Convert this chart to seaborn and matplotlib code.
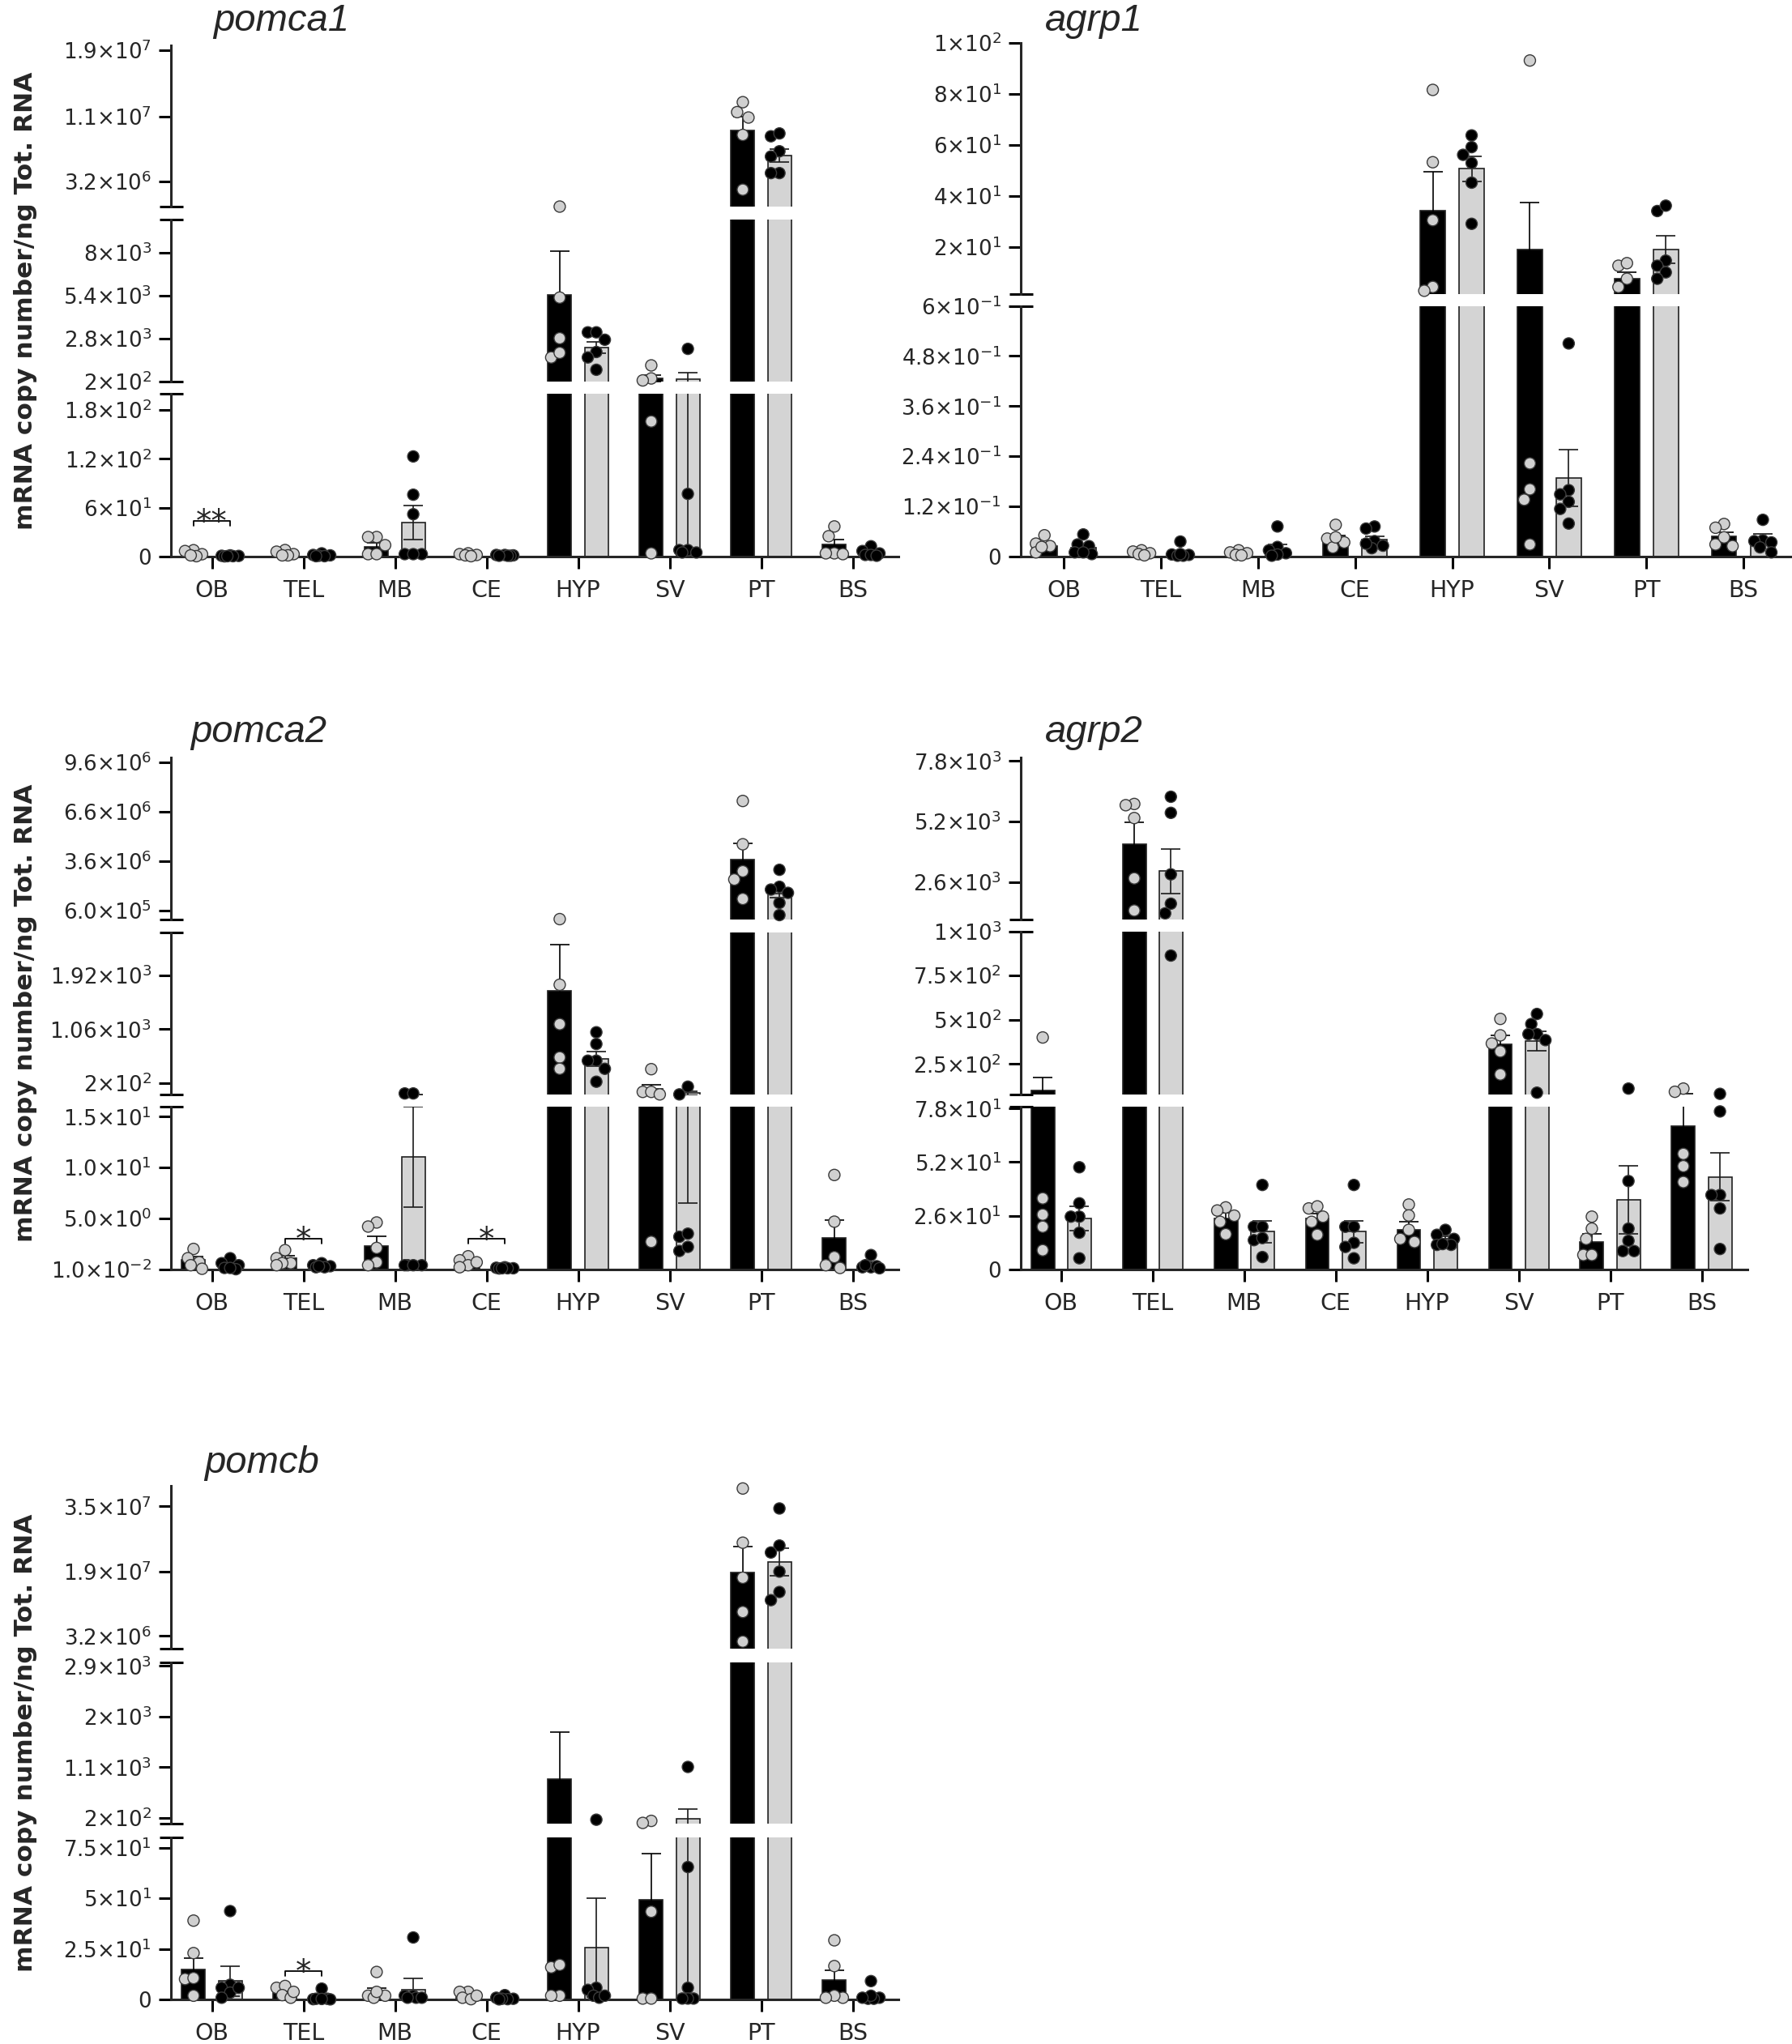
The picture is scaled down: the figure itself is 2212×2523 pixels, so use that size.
import numpy as np
import pandas as pd
import matplotlib
matplotlib.use("Agg")
import matplotlib.pyplot as plt
import seaborn as sns

# ---------------- data ----------------
REGIONS = ["OB", "TEL", "MB", "CE", "HYP", "SV", "PT", "BS"]
GROUPS = ["A", "B"]          # A: black bars / grey dots, B: grey bars / black dots
YLABEL = "mRNA copy number/ng Tot. RNA"

# pomca1
POMCA1_A_MEAN = [4, 4, 12, 2.5, 5420, 400, 9.3e6, 14.6]
POMCA1_A_SEM = [1.3, 1.2, 5, 0.7, 2670, 180, 1.7e6, 6.5]
POMCA1_A_PTS = [[7.8, 2.9, 0.5, 6.8, 1.5], [8, 6, 3, 1.5, 1.5], [24, 24, 14, 3, 3],
                [4, 3, 2, 1.5, 0.5], [1.6e5, 5280, 2820, 1660, 1940], [1180, 390, 270, 166, 4],
                [1.275e7, 1.155e7, 1.09e7, 8.8e6, 2.2e6], [37, 25, 4, 4, 3]]
POMCA1_B_MEAN = [0.8, 1.5, 42, 1.5, 2250, 345, 6.3e6, 5]
POMCA1_B_SEM = [0.2, 0.5, 21, 0.3, 350, 380, 0.75e6, 1.8]
POMCA1_B_PTS = [[1.5, 1, 0.8, 0.5, 0.3, 0.5], [4, 2, 1.5, 1, 0.5, 0.5], [123, 76, 52, 3, 3, 3],
                [2, 2, 1.5, 1, 1, 1], [3180, 3180, 2730, 1990, 1660, 915], [2180, 77, 8, 8, 5, 5],
                [8.64e6, 8.98e6, 6.83e6, 6.2e6, 4.2e6, 4.2e6], [12.7, 6.8, 3.9, 2, 2, 1]]
POMCA1_RANGES = [(1.6e5, 1.96e7), (200, 10000), (0, 200)]
POMCA1_TICKS = [[3.2e6, 1.1e7, 1.9e7], [200, 2800, 5400, 8000], [0, 60, 120, 180]]
POMCA1_TICKLABELS = [[r"$3.2{\times}10^{6}$", r"$1.1{\times}10^{7}$", r"$1.9{\times}10^{7}$"],
                     [r"$2{\times}10^{2}$", r"$2.8{\times}10^{3}$", r"$5.4{\times}10^{3}$", r"$8{\times}10^{3}$"],
                     ["0", r"$6{\times}10^{1}$", r"$1.2{\times}10^{2}$", r"$1.8{\times}10^{2}$"]]
POMCA1_SIG = [("OB", 44, "**")]

# agrp1
AGRP1_A_MEAN = [0.026, 0.008, 0.007, 0.041, 34.4, 18.9, 7.6, 0.048]
AGRP1_A_SEM = [0.007, 0.002, 0.002, 0.010, 15, 18.6, 2.5, 0.011]
AGRP1_A_PTS = [[0.051, 0.031, 0.025, 0.010, 0.023], [0.015, 0.012, 0.008, 0.006, 0.003],
               [0.015, 0.010, 0.008, 0.004, 0.003], [0.076, 0.043, 0.022, 0.034, 0.046],
               [81.5, 53.2, 30.5, 4.4, 2.9], [93.0, 0.223, 0.161, 0.136, 0.029],
               [12.7, 13.7, 7.6, 4.4, 1.0], [0.078, 0.069, 0.029, 0.025, 0.046]]
AGRP1_B_MEAN = [0.022, 0.009, 0.018, 0.040, 50.6, 0.188, 19.1, 0.043]
AGRP1_B_SEM = [0.007, 0.005, 0.011, 0.008, 4.9, 0.067, 5.4, 0.011]
AGRP1_B_PTS = [[0.053, 0.029, 0.025, 0.006, 0.010, 0.010], [0.036, 0.005, 0.004, 0.002, 0.002, 0.006],
               [0.072, 0.023, 0.015, 0.008, 0.005, 0.002], [0.072, 0.067, 0.037, 0.020, 0.026, 0.031],
               [63.7, 59.1, 56.1, 52.9, 45.2, 29.1], [0.51, 0.159, 0.149, 0.131, 0.114, 0.079],
               [34.1, 36.2, 14.7, 12.7, 10.1, 7.6], [0.088, 0.039, 0.034, 0.037, 0.010, 0.022]]
AGRP1_RANGES = [(1.6, 100), (0, 0.6)]
AGRP1_TICKS = [[20, 40, 60, 80, 100], [0, 0.12, 0.24, 0.36, 0.48, 0.6]]
AGRP1_TICKLABELS = [[r"$2{\times}10^{1}$", r"$4{\times}10^{1}$", r"$6{\times}10^{1}$", r"$8{\times}10^{1}$",
                     r"$1{\times}10^{2}$"],
                    ["0", r"$1.2{\times}10^{-1}$", r"$2.4{\times}10^{-1}$", r"$3.6{\times}10^{-1}$",
                     r"$4.8{\times}10^{-1}$", r"$6{\times}10^{-1}$"]]
AGRP1_SIG = []

# pomca2
POMCA2_A_MEAN = [0.93, 1.09, 2.32, 0.55, 1670, 102, 3.72e6, 3.12]
POMCA2_A_SEM = [0.3, 0.25, 0.96, 0.2, 750, 72, 0.96e6, 1.7]
POMCA2_A_PTS = [[2.0, 1.09, 0.69, 0.05, 0.4], [1.88, 1.09, 0.6, 0.6, 0.4], [4.6, 4.2, 2.1, 0.69, 0.4],
                [1.28, 0.89, 0.4, 0.2, 0.69], [8.5e4, 1773, 1142, 609, 427], [421, 57, 57, 17, 2.7],
                [7.26e6, 4.63e6, 2.99e6, 2.49e6, 1.31e6], [9.27, 4.68, 1.2, 0.13, 0.4]]
POMCA2_B_MEAN = [0.41, 0.4, 11.06, 0.12, 590, 37.5, 1.63e6, 0.4]
POMCA2_B_SEM = [0.15, 0.1, 4.95, 0.03, 117, 31, 0.25e6, 0.2]
POMCA2_B_PTS = [[1.09, 0.6, 0.4, 0.13, 0.01, 0.13], [0.6, 0.4, 0.3, 0.2, 0.2, 0.3], [32, 32, 0.4, 0.4, 0.4, 0.4],
                [0.2, 0.15, 0.1, 0.1, 0.08, 0.1], [1012, 824, 557, 557, 427, 220], [141, 17, 3.2, 3.5, 1.8, 2.2],
                [3.08e6, 2.05e6, 1.88e6, 1.68e6, 1.07e6, 0.33e6], [1.4, 0.2, 0.2, 0.4, 0.3, 0.1]]
POMCA2_RANGES = [(8e4, 9.9e6), (15, 2610), (0.01, 16)]
POMCA2_TICKS = [[6e5, 3.6e6, 6.6e6, 9.6e6], [200, 1060, 1920], [0.01, 5, 10, 15]]
POMCA2_TICKLABELS = [[r"$6.0{\times}10^{5}$", r"$3.6{\times}10^{6}$", r"$6.6{\times}10^{6}$", r"$9.6{\times}10^{6}$"],
                     [r"$2{\times}10^{2}$", r"$1.06{\times}10^{3}$", r"$1.92{\times}10^{3}$"],
                     [r"$1.0{\times}10^{-2}$", r"$5.0{\times}10^{0}$", r"$1.0{\times}10^{1}$", r"$1.5{\times}10^{1}$"]]
POMCA2_SIG = [("TEL", 3.0, "*"), ("CE", 3.0, "*")]

# agrp2
AGRP2_A_MEAN = [99.6, 4224, 24.6, 24.6, 19.1, 361.7, 13.4, 69.4]
AGRP2_A_SEM = [73, 933, 2.9, 2.5, 4.1, 50, 3.7, 10.5]
AGRP2_A_PTS = [[400, 34.4, 26.5, 20.6, 9.2], [5952, 5900, 5347, 2755, 1373], [30, 28.5, 26, 23, 17],
               [29.5, 30.5, 25.5, 23, 16.7], [31.4, 26.1, 19.1, 14.7, 13.2], [505, 412, 366, 321, 191],
               [25.5, 19.7, 14.7, 6.9, 6.9], [111, 93, 56, 50, 42.3]]
AGRP2_B_MEAN = [24.6, 3066, 18.3, 18.3, 14.7, 380, 33.8, 44.8]
AGRP2_B_SEM = [5.9, 950, 5.3, 5.3, 1.2, 57, 16.5, 11.7]
AGRP2_B_PTS = [[49.5, 32, 25.5, 25.5, 17.7, 5.3], [6263, 5571, 2928, 1667, 1252, 863],
               [40.9, 20.6, 20.6, 14.1, 15.1, 5.9], [40.9, 20.6, 20.6, 12.8, 10.8, 5.3],
               [19.1, 16.7, 14.7, 11.8, 11.8, 12.2], [533, 476, 419, 419, 385, 88],
               [111, 42.8, 19.7, 8.8, 8.8, 13.8], [81.4, 76.6, 36, 36, 29.5, 9.8]]
AGRP2_RANGES = [(1000, 7950), (78, 1000), (0, 79)]
AGRP2_TICKS = [[2600, 5200, 7800], [250, 500, 750, 1000], [0, 26, 52, 78]]
AGRP2_TICKLABELS = [[r"$2.6{\times}10^{3}$", r"$5.2{\times}10^{3}$", r"$7.8{\times}10^{3}$"],
                    [r"$2.5{\times}10^{2}$", r"$5{\times}10^{2}$", r"$7.5{\times}10^{2}$", r"$1{\times}10^{3}$"],
                    ["0", r"$2.6{\times}10^{1}$", r"$5.2{\times}10^{1}$", r"$7.8{\times}10^{1}$"]]
AGRP2_SIG = []

# pomcb
POMCB_A_MEAN = [15.0, 3.5, 2.9, 1.5, 885, 49.2, 1.88e7, 9.8]
POMCB_A_SEM = [5.5, 1.0, 3.0, 0.5, 833, 23, 6.3e6, 4.8]
POMCB_A_PTS = [[39, 23, 10.2, 10.7, 2], [5.9, 6.8, 2.3, 1, 3.9], [13.7, 2, 2, 1, 3.9], [3.9, 3.9, 1, 0.3, 2],
               [16, 17.2, 2, 2, 4400], [144, 108, 43.4, 0.6, 0.6],
               [3.94e7, 2.61e7, 1.75e7, 9.1e6, 1.84e6], [29.3, 16.6, 1, 2, 1]]
POMCB_B_MEAN = [9.2, 1.0, 4.9, 1.0, 25.8, 179, 2.14e7, 2.0]
POMCB_B_SEM = [7.4, 0.8, 5.5, 0.3, 24.4, 180, 3.4e6, 1.3]
POMCB_B_PTS = [[43.7, 7.4, 5.9, 3.5, 1, 5.9], [5.5, 0.5, 0.3, 0.2, 0.5, 0.4], [30.7, 2, 2, 1, 1, 1],
               [2.3, 1, 0.5, 0.3, 0.5, 0.2], [165, 5.9, 4.9, 2, 1, 2], [1104, 65.4, 5.9, 0.6, 0.6, 0.6],
               [3.45e7, 2.54e7, 2.37e7, 1.9e7, 1.4e7, 1.2e7], [9.2, 1, 0.5, 0.5, 2, 1]]
POMCB_RANGES = [(1e5, 4.0e7), (95, 2970), (0, 80)]
POMCB_TICKS = [[3.2e6, 1.9e7, 3.5e7], [200, 1100, 2000, 2900], [0, 25, 50, 75]]
POMCB_TICKLABELS = [[r"$3.2{\times}10^{6}$", r"$1.9{\times}10^{7}$", r"$3.5{\times}10^{7}$"],
                    [r"$2{\times}10^{2}$", r"$1.1{\times}10^{3}$", r"$2{\times}10^{3}$", r"$2.9{\times}10^{3}$"],
                    ["0", r"$2.5{\times}10^{1}$", r"$5{\times}10^{1}$", r"$7.5{\times}10^{1}$"]]
POMCB_SIG = [("TEL", 14, "*")]

# ---------------- layout (pixels) ----------------
W, H = 2212, 2523
PANELS = [
    dict(title="pomca1", title_xy=(263, 38), ylabel=True, x0=211, x1=1109, xlim=(-0.447, 7.5),
         seg_px=[(56, 255), (271, 471), (486, 687)], ranges=POMCA1_RANGES, ticks=POMCA1_TICKS,
         labels=POMCA1_TICKLABELS, A=(POMCA1_A_MEAN, POMCA1_A_SEM, POMCA1_A_PTS),
         B=(POMCA1_B_MEAN, POMCA1_B_SEM, POMCA1_B_PTS), sig=POMCA1_SIG),
    dict(title="agrp1", title_xy=(1290, 38), ylabel=False, x0=1260, x1=2212, xlim=(-0.444, 7.5),
         seg_px=[(52.6, 363), (377.5, 687)], ranges=AGRP1_RANGES, ticks=AGRP1_TICKS,
         labels=AGRP1_TICKLABELS, A=(AGRP1_A_MEAN, AGRP1_A_SEM, AGRP1_A_PTS),
         B=(AGRP1_B_MEAN, AGRP1_B_SEM, AGRP1_B_PTS), sig=AGRP1_SIG),
    dict(title="pomca2", title_xy=(235, 916), ylabel=True, x0=211, x1=1109, xlim=(-0.447, 7.5),
         seg_px=[(935, 1134.6), (1151, 1351), (1365.8, 1566.6)], ranges=POMCA2_RANGES, ticks=POMCA2_TICKS,
         labels=POMCA2_TICKLABELS, A=(POMCA2_A_MEAN, POMCA2_A_SEM, POMCA2_A_PTS),
         B=(POMCA2_B_MEAN, POMCA2_B_SEM, POMCA2_B_PTS), sig=POMCA2_SIG),
    dict(title="agrp2", title_xy=(1290, 916), ylabel=False, x0=1260, x1=2157, xlim=(-0.44, 7.5),
         seg_px=[(935, 1134.6), (1149.6, 1350.9), (1365.8, 1566.6)], ranges=AGRP2_RANGES, ticks=AGRP2_TICKS,
         labels=AGRP2_TICKLABELS, A=(AGRP2_A_MEAN, AGRP2_A_SEM, AGRP2_A_PTS),
         B=(AGRP2_B_MEAN, AGRP2_B_SEM, AGRP2_B_PTS), sig=AGRP2_SIG),
    dict(title="pomcb", title_xy=(252, 1818), ylabel=True, x0=211, x1=1109, xlim=(-0.447, 7.5),
         seg_px=[(1834.3, 2035), (2051.6, 2251), (2268, 2468.4)], ranges=POMCB_RANGES, ticks=POMCB_TICKS,
         labels=POMCB_TICKLABELS, A=(POMCB_A_MEAN, POMCB_A_SEM, POMCB_A_PTS),
         B=(POMCB_B_MEAN, POMCB_B_SEM, POMCB_B_PTS), sig=POMCB_SIG),
]

sns.set_style("ticks")
plt.rcParams["font.family"] = ["DejaVu Sans"]
plt.rcParams["mathtext.fontset"] = "dejavusans"

BAR_COLORS = {"A": "black", "B": "#d4d4d4"}
DOT_COLORS = {"A": "#d0d0d0", "B": "black"}
ERR_COLORS = {"A": "black", "B": "#1a1a1a"}
OFFSET = {"A": -0.2, "B": 0.2}
LW = 2.2
PX = 72 / 100.0          # points per pixel
DOT_PX = 14.0            # dot diameter in pixels
CANDIDATES = [0, -7, 7, -3.5, 3.5, -10.5, 10.5]

fig = plt.figure(figsize=(W / 100, H / 100), dpi=100)
fig.patch.set_facecolor("white")


def fig_rect(x0, x1, ytop, ybot):
    return [x0 / W, 1 - ybot / H, (x1 - x0) / W, (ybot - ytop) / H]


def spread(ys_px):
    """Deterministic beeswarm-like horizontal offsets (pixels) for points at heights ys_px."""
    order = np.argsort(ys_px)[::-1]
    placed = []
    out = np.zeros(len(ys_px))
    for idx in order:
        y = ys_px[idx]
        best, best_d = CANDIDATES[0], -1
        for c in CANDIDATES:
            dmin = min([np.hypot(c - px, y - py) for px, py in placed], default=1e9)
            if dmin >= 0.95 * DOT_PX:
                best = c
                break
            if dmin > best_d + 1e-9:
                best, best_d = c, dmin
        placed.append((best, y))
        out[idx] = best
    return out


for P in PANELS:
    bar_df = pd.DataFrame({
        "region": REGIONS * 2,
        "group": ["A"] * 8 + ["B"] * 8,
        "value": list(P["A"][0]) + list(P["B"][0]),
    })
    nseg = len(P["seg_px"])
    ppu = (P["x1"] - P["x0"]) / (P["xlim"][1] - P["xlim"][0])   # pixels per category unit
    for k, ((ytop, ybot), (lo, hi)) in enumerate(zip(P["seg_px"], P["ranges"])):
        ax = fig.add_axes(fig_rect(P["x0"], P["x1"], ytop, ybot))
        ax.patch.set_alpha(0)
        ppv = (ybot - ytop) / (hi - lo)                           # pixels per value unit
        sns.barplot(data=bar_df, x="region", y="value", hue="group", order=REGIONS,
                    hue_order=GROUPS, palette=BAR_COLORS, width=0.8, gap=0.36,
                    errorbar=None, legend=False, edgecolor="#202020", linewidth=1.2,
                    saturation=1, ax=ax)
        for patch in ax.patches:
            if patch.get_height() < lo:
                patch.set_visible(False)
        for g in GROUPS:
            m = np.asarray(P[g][0], float)
            s = np.asarray(P[g][1], float)
            keep = (m + s >= lo) & (m - s <= hi)
            xs = np.arange(len(REGIONS))[keep] + OFFSET[g]
            if keep.any():
                ax.errorbar(xs, m[keep], yerr=s[keep], fmt="none", ecolor=ERR_COLORS[g],
                            elinewidth=1.2, capsize=8.5, capthick=1.2, zorder=3)
        # dots
        rows = []
        for g in GROUPS:
            for i, vals in enumerate(P[g][2]):
                v = np.asarray([x for x in vals if lo <= x <= hi], float)
                if len(v) == 0:
                    continue
                offs = spread((v - lo) * ppv)
                for vv, oo in zip(v, offs):
                    rows.append((i + OFFSET[g] + oo / ppu, vv, g))
        if rows:
            dots = pd.DataFrame(rows, columns=["x", "value", "group"])
            nc = len(ax.collections)
            sns.scatterplot(data=dots, x="x", y="value", hue="group", hue_order=GROUPS,
                            palette=DOT_COLORS, s=(DOT_PX * PX) ** 2, edgecolor="#3a3a3a",
                            linewidth=1.0, legend=False, ax=ax, zorder=5)
            for c in ax.collections[nc:]:
                c.set_clip_on(False)

        ax.set_xlim(*P["xlim"])
        ax.set_ylim(lo, hi)
        ax.set_xticks(range(len(REGIONS)))
        ax.set_xticklabels(REGIONS)
        ax.set_yticks(P["ticks"][k])
        ax.set_yticklabels(P["labels"][k])
        ax.set_xlabel("")
        ax.set_ylabel("")
        ax.spines[["top", "right"]].set_visible(False)
        ax.spines["left"].set_linewidth(LW)
        ax.tick_params(axis="y", length=15 * PX, width=LW, pad=9 * PX, labelsize=18.8, color="black")
        if k < nseg - 1:
            ax.spines["bottom"].set_visible(False)
            ax.tick_params(axis="x", bottom=False, labelbottom=False)
        else:
            ax.spines["bottom"].set_linewidth(LW)
            ax.tick_params(axis="x", length=15 * PX, width=LW, pad=13 * PX, labelsize=20.5, color="black")
        # break marks
        d = 14.5 / (P["x1"] - P["x0"])
        tr = ax.get_yaxis_transform()
        if k > 0:
            ax.plot([-d, d], [hi, hi], transform=tr, color="black", lw=LW, clip_on=False,
                    solid_capstyle="butt", scalex=False, scaley=False)
        if k < nseg - 1:
            ax.plot([-d, d], [lo, lo], transform=tr, color="black", lw=LW, clip_on=False,
                    solid_capstyle="butt", scalex=False, scaley=False)
        # significance brackets on the lowest segment
        if k == nseg - 1:
            dpp = 1.0 / ppv
            for reg, yb, s in P["sig"]:
                i = REGIONS.index(reg)
                ax.plot([i - 0.2, i - 0.2, i + 0.2, i + 0.2], [yb - 6 * dpp, yb, yb, yb - 6 * dpp],
                        color="black", lw=1.3, clip_on=False, scalex=False, scaley=False)
                ax.text(i, yb - 13 * dpp, s, ha="center", va="baseline", fontsize=28)

    tx, ty = P["title_xy"]
    fig.text(tx / W, 1 - ty / H, P["title"], fontsize=34, style="italic",
             family=["Liberation Sans", "DejaVu Sans"], ha="left", va="baseline")
    if P["ylabel"]:
        yc = (P["seg_px"][0][0] + P["seg_px"][-1][1]) / 2
        fig.text(32 / W, 1 - yc / H, YLABEL, rotation=90, ha="center", va="center",
                 fontsize=22.5, fontweight="bold")

fig.savefig("out.png", dpi=100, facecolor="white")
